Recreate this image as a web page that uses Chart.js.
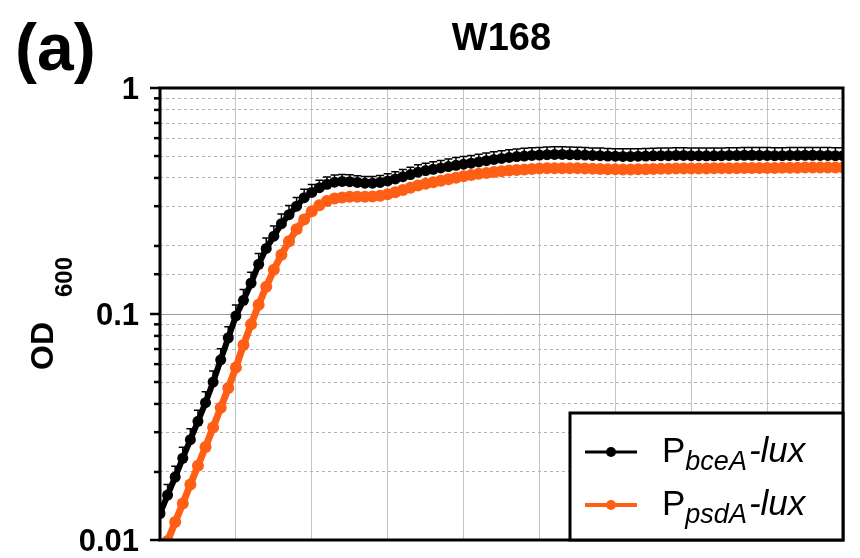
<!DOCTYPE html>
<html>
<head>
<meta charset="utf-8">
<script src="https://cdn.jsdelivr.net/npm/chart.js@4.4.0/dist/chart.umd.min.js"></script>
<style>
  html, body { margin: 0; padding: 0; background: #fff; }
  #wrap { width: 860px; height: 558px; }
</style>
</head>
<body>
<div id="wrap"><canvas id="growth" width="860" height="558"></canvas></div>
<script>
// plate reader readings, every 12 min
const timeMin = [
  0, 12, 24, 36, 48, 60, 72, 84, 96, 108,
  120, 132, 144, 156, 168, 180, 192, 204, 216, 228,
  240, 252, 264, 276, 288, 300, 312, 324, 336, 348,
  360, 372, 384, 396, 408, 420, 432, 444, 456, 468,
  480, 492, 504, 516, 528, 540, 552, 564, 576, 588,
  600, 612, 624, 636, 648, 660, 672, 684, 696, 708,
  720, 732, 744, 756, 768, 780, 792, 804, 816, 828,
  840, 852, 864, 876, 888, 900, 912, 924, 936, 948,
  960, 972, 984, 996, 1008, 1020, 1032, 1044, 1056, 1068,
  1080
];

// OD600, PbceA-lux (mean and SD)
const odBceA = [
  0.0131, 0.0158, 0.0190, 0.0230, 0.0278, 0.0335, 0.0405, 0.0500, 0.0627, 0.0785,
  0.098, 0.115, 0.137, 0.166, 0.195, 0.221, 0.251, 0.275, 0.300, 0.327,
  0.345, 0.362, 0.375, 0.383, 0.386, 0.385, 0.382, 0.379, 0.379, 0.382,
  0.388, 0.396, 0.405, 0.414, 0.424, 0.431, 0.437, 0.443, 0.449, 0.455,
  0.460, 0.465, 0.471, 0.477, 0.483, 0.488, 0.493, 0.497, 0.500, 0.503,
  0.505, 0.507, 0.508, 0.508, 0.507, 0.506, 0.505, 0.503, 0.502, 0.500,
  0.499, 0.498, 0.498, 0.499, 0.500, 0.501, 0.502, 0.502, 0.503, 0.503,
  0.502, 0.502, 0.501, 0.501, 0.502, 0.503, 0.503, 0.504, 0.504, 0.503,
  0.503, 0.502, 0.502, 0.503, 0.503, 0.504, 0.504, 0.503, 0.503, 0.502,
  0.502
];
const sdBceA = [
  0.0015, 0.0018, 0.0022, 0.0027, 0.0033, 0.0040, 0.0048, 0.0060, 0.0075, 0.0093,
  0.0115, 0.0135, 0.016, 0.019, 0.022, 0.024, 0.026, 0.027, 0.028, 0.029,
  0.029, 0.029, 0.029, 0.029, 0.028, 0.028, 0.027, 0.027, 0.027, 0.028,
  0.029, 0.030, 0.031, 0.032, 0.033, 0.034, 0.035, 0.035, 0.036, 0.037,
  0.037, 0.038, 0.038, 0.039, 0.039, 0.040, 0.040, 0.040, 0.041, 0.041,
  0.041, 0.041, 0.041, 0.041, 0.041, 0.041, 0.040, 0.040, 0.040, 0.040,
  0.040, 0.040, 0.040, 0.040, 0.040, 0.040, 0.041, 0.041, 0.041, 0.041,
  0.041, 0.041, 0.041, 0.041, 0.041, 0.041, 0.041, 0.042, 0.042, 0.042,
  0.042, 0.042, 0.042, 0.042, 0.042, 0.042, 0.042, 0.042, 0.042, 0.042,
  0.042
];

// OD600, PpsdA-lux
const odPsdA = [
  0.0082, 0.0099, 0.0120, 0.0145, 0.0176, 0.0213, 0.0258, 0.0315, 0.0385, 0.0470,
  0.058, 0.073, 0.090, 0.110, 0.132, 0.157, 0.183, 0.210, 0.237, 0.262,
  0.285, 0.303, 0.316, 0.324, 0.328, 0.330, 0.330, 0.330, 0.331, 0.334,
  0.339, 0.346, 0.354, 0.362, 0.370, 0.377, 0.383, 0.389, 0.395, 0.401,
  0.407, 0.412, 0.417, 0.421, 0.425, 0.428, 0.431, 0.434, 0.436, 0.438,
  0.440, 0.441, 0.442, 0.442, 0.442, 0.441, 0.440, 0.439, 0.438, 0.437,
  0.437, 0.436, 0.436, 0.437, 0.437, 0.438, 0.439, 0.439, 0.440, 0.440,
  0.440, 0.440, 0.440, 0.441, 0.441, 0.442, 0.442, 0.443, 0.443, 0.443,
  0.443, 0.443, 0.444, 0.444, 0.444, 0.445, 0.445, 0.445, 0.445, 0.445,
  0.445
];

const yTickValues = [0.01, 0.1, 1];
const yTickLabels = ['0.01', '0.1', '1'];

const BLACK = '#000000';
const ORANGE = '#ff5f15';
const FONT = '"Liberation Sans", Arial, Helvetica, sans-serif';

// legend text: [main, subscript, suffix]
const legendRows = [
  { color: BLACK, parts: ['P', 'bceA', '-lux'] },
  { color: ORANGE, parts: ['P', 'psdA', '-lux'] }
];

const toPoints = (ys) => timeMin.map((t, i) => ({ x: t, y: ys[i] }));
const isDecade = (v) => Math.abs(Math.log10(v) - Math.round(Math.log10(v))) < 1e-6;

// upward error bars + solid decade lines, under the markers
const errorBars = {
  id: 'errorBars',
  beforeDatasetsDraw(chart) {
    const { ctx, chartArea: a, scales: { y } } = chart;
    ctx.save();
    ctx.beginPath();
    ctx.rect(a.left, a.top, a.right - a.left, a.bottom - a.top);
    ctx.clip();

    ctx.strokeStyle = '#9c9c9c';
    ctx.lineWidth = 1;
    y.ticks.forEach(t => {
      if (!isDecade(t.value)) return;
      const py = Math.round(y.getPixelForValue(t.value)) + 0.5;
      ctx.beginPath();
      ctx.moveTo(a.left, py);
      ctx.lineTo(a.right, py);
      ctx.stroke();
    });

    chart.data.datasets.forEach((ds, i) => {
      if (!ds.sd) return;
      const meta = chart.getDatasetMeta(i);
      ctx.strokeStyle = ds.borderColor;
      ctx.lineWidth = 1.5;
      meta.data.forEach((pt, j) => {
        const top = y.getPixelForValue(ds.data[j].y + ds.sd[j]);
        ctx.beginPath();
        ctx.moveTo(pt.x, pt.y);
        ctx.lineTo(pt.x, top);
        ctx.moveTo(pt.x - 4, top);
        ctx.lineTo(pt.x + 4, top);
        ctx.stroke();
      });
    });
    ctx.restore();
  }
};

// frame, y ticks and labels, legend, titles
const frame = {
  id: 'frame',
  afterDraw(chart) {
    const { ctx, chartArea: a, scales: { y } } = chart;
    ctx.save();

    // tick marks outside the left axis
    ctx.strokeStyle = BLACK;
    ctx.lineWidth = 2.5;
    y.ticks.forEach(t => {
      const len = isDecade(t.value) ? 10 : 6;
      const py = y.getPixelForValue(t.value);
      ctx.beginPath();
      ctx.moveTo(a.left - len, py);
      ctx.lineTo(a.left, py);
      ctx.stroke();
    });

    ctx.fillStyle = BLACK;
    ctx.font = 'bold 31px ' + FONT;
    ctx.textAlign = 'right';
    ctx.textBaseline = 'middle';
    yTickValues.forEach((v, i) => {
      ctx.fillText(yTickLabels[i], a.left - 21, y.getPixelForValue(v) + 2);
    });

    // plot box
    ctx.lineWidth = 3;
    ctx.strokeRect(a.left, a.top, a.right - a.left, a.bottom - a.top);

    // legend box in the lower right corner
    const lw = 273, lh = 127;
    const lx = a.right - lw, ly = a.bottom - lh;
    ctx.fillStyle = '#fff';
    ctx.fillRect(lx, ly, lw, lh);
    ctx.strokeStyle = BLACK;
    ctx.lineWidth = 3;
    ctx.strokeRect(lx, ly, lw, lh);

    legendRows.forEach((row, i) => {
      const cy = ly + 39 + i * 53;
      ctx.strokeStyle = row.color;
      ctx.lineWidth = i === 0 ? 3 : 4;
      ctx.beginPath();
      ctx.moveTo(lx + 15, cy);
      ctx.lineTo(lx + 67, cy);
      ctx.stroke();
      ctx.fillStyle = row.color;
      ctx.beginPath();
      ctx.arc(lx + 41, cy, 5, 0, Math.PI * 2);
      ctx.fill();

      ctx.fillStyle = BLACK;
      ctx.textAlign = 'left';
      ctx.textBaseline = 'alphabetic';
      const base = cy + 10;
      let tx = lx + 92;
      ctx.font = '35px ' + FONT;
      ctx.fillText(row.parts[0], tx, base);
      tx += ctx.measureText(row.parts[0]).width;
      ctx.font = 'italic 27px ' + FONT;
      ctx.fillText(row.parts[1], tx, base + 8);
      tx += ctx.measureText(row.parts[1]).width + 2;
      ctx.font = 'italic 35px ' + FONT;
      ctx.fillText(row.parts[2], tx, base);
    });

    // panel letter and title
    ctx.fillStyle = BLACK;
    ctx.textAlign = 'left';
    ctx.textBaseline = 'alphabetic';
    ctx.font = 'bold 66px ' + FONT;
    ctx.fillText('(a)', 15, 70);
    ctx.textAlign = 'center';
    ctx.font = 'bold 38px ' + FONT;
    ctx.fillText('W168', (a.left + a.right) / 2, 50);

    // y axis title OD600
    ctx.translate(53, 370);
    ctx.rotate(-Math.PI / 2);
    ctx.textAlign = 'left';
    ctx.font = 'bold 32px ' + FONT;
    ctx.fillText('OD', 0, 0);
    ctx.font = 'bold 24px ' + FONT;
    ctx.fillText('600', 73, 19);

    ctx.restore();
  }
};

new Chart(document.getElementById('growth'), {
  type: 'line',
  data: {
    datasets: [
      {
        label: 'PpsdA-lux',
        data: toPoints(odPsdA),
        borderColor: ORANGE,
        backgroundColor: ORANGE,
        pointBackgroundColor: ORANGE,
        borderWidth: 7,
        pointRadius: 6,
        pointBorderWidth: 0,
        order: 0
      },
      {
        label: 'PbceA-lux',
        data: toPoints(odBceA),
        sd: sdBceA,
        borderColor: BLACK,
        backgroundColor: BLACK,
        pointBackgroundColor: BLACK,
        borderWidth: 6,
        pointRadius: 5.5,
        pointBorderWidth: 0,
        order: 1
      }
    ]
  },
  options: {
    responsive: false,
    animation: false,
    devicePixelRatio: 1,
    events: [],
    layout: { padding: { top: 88, right: 17, bottom: 18, left: 0 } },
    plugins: {
      legend: { display: false },
      tooltip: { enabled: false },
      title: { display: false }
    },
    scales: {
      x: {
        type: 'linear',
        min: 0,
        max: 1080,
        ticks: { display: false, stepSize: 120 },
        grid: { color: '#c4c4c4', lineWidth: 1, drawTicks: false },
        border: { display: false },
        afterFit: (s) => { s.height = 0; }
      },
      y: {
        type: 'logarithmic',
        min: 0.01,
        max: 1,
        ticks: { display: false, autoSkip: false },
        grid: { color: '#b4b4b4', lineWidth: 1, drawTicks: false },
        border: { display: false, dash: [3, 3] },
        afterFit: (s) => { s.width = 160; }
      }
    }
  },
  plugins: [errorBars, frame]
});
</script>
</body>
</html>
